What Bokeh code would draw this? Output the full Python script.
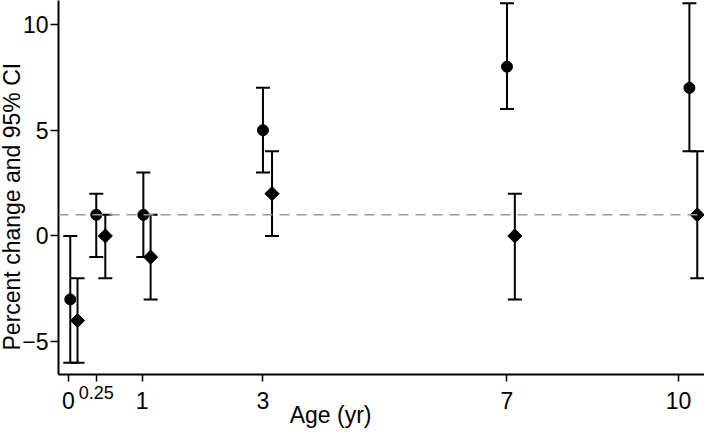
import math
from bokeh.plotting import figure
from bokeh.models import (ColumnDataSource, Whisker, TeeHead, Span, Range1d, FixedTicker,
                          LinearAxis, Title)
from bokeh.embed import file_html
from bokeh.resources import INLINE

# Age groups (tick labels) and their axis positions (the axis is not linear in age)
age_labels = ["0", "0.25", "1", "3", "7", "10"]
age_pos = [0.0, 0.46, 1.22, 3.22, 7.26, 10.1]

# Series 1 (circles)
s1_x = [0.03, 0.46, 1.24, 3.22, 7.26, 10.28]
s1_est = [-3, 1, 1, 5, 8, 7]
s1_lo = [-6, -1, -1, 3, 6, 4]
s1_hi = [0, 2, 3, 7, 11, 11]

# Series 2 (diamonds)
s2_x = [0.15, 0.61, 1.36, 3.37, 7.39, 10.41]
s2_est = [-4, 0, -1, 2, 0, 1]
s2_lo = [-6, -2, -3, 0, -3, -2]
s2_hi = [-2, 1, 1, 4, 2, 4]

ref_line = 1
y_ticks = [-5, 0, 5, 10]
x_title = "Age (yr)"
y_title = "Percent change and 95% CI"
x_title_pos = 4.34

FONT = "Liberation Sans"
W, H = 704, 430

p = figure(width=W, height=H, output_backend="svg", toolbar_location=None,
           x_range=Range1d(-0.165, 10.53), y_range=Range1d(-6.55, 11.13),
           min_border_left=58, min_border_bottom=H - 376, min_border_top=0, min_border_right=0)
p.outline_line_color = None
p.xgrid.visible = False
p.ygrid.visible = False
p.background_fill_color = "white"
p.border_fill_color = "white"


def style(ax, size="23px"):
    ax.axis_line_width = 2
    ax.axis_line_color = "black"
    ax.major_tick_line_width = 1.5
    ax.major_tick_line_color = "black"
    ax.major_tick_in = 0
    ax.major_tick_out = 7
    ax.minor_tick_line_color = None
    ax.major_label_text_font = FONT
    ax.major_label_text_font_size = size
    ax.major_label_text_color = "black"


def bare(ax):
    ax.axis_line_color = None
    ax.major_tick_line_color = None
    ax.major_tick_out = 0
    ax.major_tick_in = 0
    ax.minor_tick_line_color = None
    ax.minor_tick_out = 0


# x axis A: line, ticks, and the small "0.25" label
xa = p.xaxis[0]
style(xa, "18px")
xa.ticker = FixedTicker(ticks=age_pos)
xa.major_label_overrides = {pos: (lab if lab == "0.25" else "") for pos, lab in zip(age_pos, age_labels)}
xa.major_label_standoff = 4

# x axis B: main tick labels
xb = LinearAxis(ticker=FixedTicker(ticks=age_pos))
style(xb)
bare(xb)
xb.major_label_overrides = {pos: (lab if lab != "0.25" else "") for pos, lab in zip(age_pos, age_labels)}
xb.major_label_standoff = -10
p.add_layout(xb, "below")

# x axis C: title placed off-centre
xc = LinearAxis(ticker=FixedTicker(ticks=[x_title_pos]))
style(xc)
bare(xc)
xc.major_label_overrides = {x_title_pos: x_title}
xc.major_label_standoff = -10
p.add_layout(xc, "below")

# y axis
ya = p.yaxis[0]
style(ya)
ya.ticker = FixedTicker(ticks=y_ticks)
ya.major_label_standoff = 2
ya.major_tick_out = 8

p.add_layout(Title(text=y_title, align="left", offset=24, standoff=-10,
                   text_font=FONT, text_font_size="23px", text_font_style="normal",
                   text_color="black"), "left")

# reference line
p.add_layout(Span(location=ref_line, dimension="width", line_color="#999999",
                  line_width=1.6, line_dash="10 7"))

src1 = ColumnDataSource(dict(x=s1_x, y=s1_est, lo=s1_lo, hi=s1_hi))
src2 = ColumnDataSource(dict(x=s2_x, y=s2_est, lo=s2_lo, hi=s2_hi))

for src in (src1, src2):
    p.add_layout(Whisker(base="x", upper="hi", lower="lo", source=src, dimension="height",
                         line_color="black", line_width=2,
                         upper_head=TeeHead(size=14, line_width=2, line_color="black"),
                         lower_head=TeeHead(size=14, line_width=2, line_color="black")))

p.scatter("x", "y", source=src1, marker="circle", size=11, fill_color="black", line_color="black")
p.scatter("x", "y", source=src2, marker="square", size=10, angle=math.pi / 4,
          fill_color="black", line_color="black")

open("out.html", "w").write(file_html(p, INLINE))
